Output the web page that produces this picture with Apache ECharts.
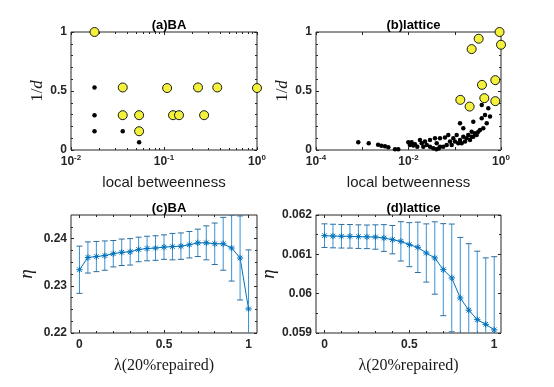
<!DOCTYPE html>
<html><head><meta charset="utf-8">
<script src="https://cdn.jsdelivr.net/npm/echarts@6/dist/echarts.min.js"></script>
<style>html,body{margin:0;padding:0;background:#fff}#c{width:554px;height:387px}</style>
</head><body><div id="c"></div>
<script>
// ---------------- DATA ----------------
const titles = ['(a)BA', '(b)lattice', '(c)BA', '(d)lattice'];
// (a) BA: [local betweenness, 1/d]
const baBlack = [[0.0179,0.53],[0.0179,0.295],[0.0179,0.159],[0.036,0.159],[0.054,0.065]];
const baYellow = [[0.0179,1.0],[0.036,0.53],[0.036,0.295],[0.054,0.295],[0.054,0.159],[0.108,0.525],
  [0.125,0.295],[0.145,0.295],[0.232,0.53],[0.27,0.295],[0.374,0.53],[1.0,0.525]];
// (b) lattice
const latBlack = [[0.00082,0.065],[0.00138,0.057],[0.0022,0.045],[0.0026,0.037],[0.0031,0.031],[0.00366,0.023],
  [0.0051,0.006],[0.006,0.006],[0.0099,0.065],[0.0117,0.065],[0.0107,0.042],[0.0138,0.048],[0.0155,0.028],
  [0.0127,0.038],[0.0177,0.085],[0.0193,0.057],[0.0209,0.028],[0.0227,0.071],[0.0248,0.042],[0.0292,0.085],
  [0.0292,0.028],[0.0344,0.014],[0.0374,0.099],[0.0407,0.057],[0.048,0.028],[0.048,0.099],[0.0565,0.028],
  [0.0615,0.105],[0.067,0.042],[0.0725,0.127],[0.0789,0.071],[0.0859,0.042],[0.093,0.099],[0.101,0.071],
  [0.110,0.127],[0.119,0.057],[0.130,0.085],[0.130,0.227],[0.141,0.057],[0.153,0.113],[0.153,0.184],
  [0.167,0.071],[0.181,0.099],[0.196,0.127],[0.214,0.085],[0.232,0.155],[0.232,0.113],[0.252,0.24],
  [0.252,0.113],[0.274,0.142],[0.298,0.127],[0.323,0.155],[0.352,0.17],[0.383,0.269],[0.414,0.184],
  [0.451,0.297],[0.383,0.382],[0.491,0.227],[0.531,0.354],[0.578,0.283],[0.04,0.006],[0.045,0.012]];
const latYellow = [[0.93,1.0],[1.0,0.892],[0.329,0.943],[0.232,0.855],[0.753,0.592],[0.388,0.552],
  [0.436,0.439],[0.753,0.414],[0.132,0.425],[0.21,0.368]];
// (c),(d) efficiency vs lambda
const lambda = [0,0.05,0.1,0.15,0.2,0.25,0.3,0.35,0.4,0.45,0.5,0.55,0.6,0.65,0.7,0.75,0.8,0.85,0.9,0.95,1];
const etaBA = [0.2334,0.2360,0.2362,0.2364,0.2368,0.2371,0.2372,0.2377,0.2379,0.2380,0.2382,0.2383,0.2384,
  0.2387,0.2391,0.2391,0.2389,0.2389,0.2380,0.2359,0.2251];
const errBA = [0.0050,0.0033,0.0032,0.0031,0.0028,0.0028,0.0028,0.0026,0.0026,0.0026,0.0026,0.0028,0.0028,
  0.0028,0.0029,0.0036,0.0044,0.0056,0.0070,0.0089,0.0125];
const etaLat = [0.061475,0.061465,0.061460,0.061458,0.061450,0.061445,0.061440,0.061415,0.061373,0.06133,
  0.061246,0.061178,0.061034,0.060907,0.06061,0.0604,0.05989,0.05958,0.05934,0.05922,0.05908];
const errLat = [0.0003,0.0003,0.0003,0.0003,0.0003,0.0003,0.00031,0.00034,0.00036,0.0005,0.00056,0.00064,
  0.00074,0.00092,0.00117,0.00137,0.00154,0.00169,0.00174,0.00169,0.00186];
// tick labels
const ticks01 = [0, 0.5, 1];
const ticksLam = [0, 0.5, 1];
const ticksEtaBA = [0.22, 0.23, 0.24];
const ticksEtaLat = [0.059, 0.06, 0.061, 0.062];

// ---------------- STYLE / LAYOUT ----------------
const F = 'Liberation Sans, Arial, sans-serif';
const SERIF = 'Liberation Serif, Times New Roman, serif';
const AX = '#262626';
const BLUE = '#0072BD', BAR = '#3a92d4', CAP = '#2d6d9e';
const grids = [
  {left:71, top:32, width:186, height:118},
  {left:316, top:32, width:185, height:118},
  {left:71, top:215, width:186, height:118},
  {left:316, top:215, width:185, height:118}
];
const xAxes = [], yAxes = [];
const addX = o => (xAxes.push(o), xAxes.length - 1);
const addY = o => (yAxes.push(o), yAxes.length - 1);
const noLine = {show:false, onZero:false};
const tk = (len, cv) => { const t = {show:true, inside:true, length:len, lineStyle:{color:AX, width:1}}; if (cv) t.customValues = cv; return t; };
const lab = {color:AX, fontFamily:F, fontWeight:'bold', fontSize:12};
const offLab = {show:false};
const noSplit = {show:false};
const logRich = {
  b:{fontSize:12, fontWeight:'bold', fontFamily:F, color:AX, lineHeight:14, verticalAlign:'bottom'},
  s:{fontSize:8, fontWeight:'bold', fontFamily:F, color:AX, lineHeight:9, verticalAlign:'top'}
};
const xNameStyle = {fontFamily:F, fontSize:15, color:'#1a1a1a'};
const lamNameStyle = {fontFamily:SERIF, fontSize:16, color:'#1a1a1a'};
const dRich = {n:{fontFamily:SERIF, fontSize:17, color:'#1a1a1a'}, i:{fontFamily:SERIF, fontStyle:'italic', fontSize:17, color:'#1a1a1a'}};
const etaStyle = {fontFamily:SERIF, fontStyle:'italic', fontSize:19, color:'#1a1a1a'};

function logMinor(e0, e1, everyDecade) {
  const out = [];
  for (let e = e0; e < e1; e++) {
    if (everyDecade) { if ((e - e0) % 2 === 1) out.push(e); continue; }
    for (let k = 2; k <= 9; k++) out.push(e + Math.log10(k));
  }
  return out;
}

const axRefs = [];
// Panels (a),(b): log x, linear y 0..1
[[0, -2, 0, false], [1, -4, 0, true]].forEach(([g, e0, e1, skipOdd]) => {
  const lmin = Math.pow(10, e0), lmax = Math.pow(10, e1);
  const fmt = v => { const e = Math.round(Math.log10(v)); if (skipOdd && (e - e0) % 2) return ''; return '{b|10}{s|' + e + '}'; };
  const xi = addX({gridIndex:g, type:'log', logBase:10, min:lmin, max:lmax, position:'bottom', axisLine:noLine,
    axisTick:tk(3), axisLabel:{formatter:fmt, rich:logRich, margin:4}, splitLine:noSplit,
    name:'local betweenness', nameLocation:'middle', nameGap:25, nameTextStyle:xNameStyle});
  addX({gridIndex:g, type:'log', logBase:10, min:lmin, max:lmax, position:'top', axisLine:noLine, axisTick:tk(3), axisLabel:offLab, splitLine:noSplit});
  const mv = logMinor(e0, e1, skipOdd);
  addX({gridIndex:g, type:'value', min:e0, max:e1, position:'bottom', axisLine:noLine, axisTick:tk(2, mv), axisLabel:offLab, splitLine:noSplit});
  addX({gridIndex:g, type:'value', min:e0, max:e1, position:'top', axisLine:noLine, axisTick:tk(2, mv), axisLabel:offLab, splitLine:noSplit});
  const yi = addY({gridIndex:g, type:'value', min:0, max:1, position:'left', axisLine:noLine, axisTick:tk(3, ticks01),
    axisLabel:Object.assign({customValues:ticks01, margin:4}, lab), splitLine:noSplit,
    name:'{n|1/}{i|d}', nameLocation:'middle', nameGap:25, nameTextStyle:{rich:dRich}});
  addY({gridIndex:g, type:'value', min:0, max:1, position:'right', axisLine:noLine, axisTick:tk(3, ticks01), axisLabel:offLab, splitLine:noSplit});
  const ym = [0.1,0.2,0.3,0.4,0.6,0.7,0.8,0.9];
  addY({gridIndex:g, type:'value', min:0, max:1, position:'left', axisLine:noLine, axisTick:tk(2, ym), axisLabel:offLab, splitLine:noSplit});
  addY({gridIndex:g, type:'value', min:0, max:1, position:'right', axisLine:noLine, axisTick:tk(2, ym), axisLabel:offLab, splitLine:noSplit});
  axRefs[g] = [xi, yi];
});
// Panels (c),(d)
[[2, -0.05, 1.05, 0.22, 0.245, ticksEtaBA, 0.0025, 2, 35], [3, -0.05, 1.04, 0.059, 0.062, ticksEtaLat, 0.0005, 3, 33]].forEach(
  ([g, xmin, xmax, ymin, ymax, yt, ystep, dec, gap]) => {
  const xm = [0.1,0.2,0.3,0.4,0.6,0.7,0.8,0.9];
  const xi = addX({gridIndex:g, type:'value', min:xmin, max:xmax, position:'bottom', axisLine:noLine, axisTick:tk(3, ticksLam),
    axisLabel:Object.assign({customValues:ticksLam, margin:6}, lab), splitLine:noSplit,
    name:'λ(20%repaired)', nameLocation:'middle', nameGap:25, nameTextStyle:lamNameStyle});
  addX({gridIndex:g, type:'value', min:xmin, max:xmax, position:'top', axisLine:noLine, axisTick:tk(3, ticksLam), axisLabel:offLab, splitLine:noSplit});
  addX({gridIndex:g, type:'value', min:xmin, max:xmax, position:'bottom', axisLine:noLine, axisTick:tk(2, xm), axisLabel:offLab, splitLine:noSplit});
  addX({gridIndex:g, type:'value', min:xmin, max:xmax, position:'top', axisLine:noLine, axisTick:tk(2, xm), axisLabel:offLab, splitLine:noSplit});
  const ym = [];
  for (let v = ymin + ystep; v < ymax - 1e-9; v += ystep) {
    const r = +v.toFixed(6);
    if (!yt.some(t => Math.abs(t - r) < 1e-9)) ym.push(r);
  }
  const yi = addY({gridIndex:g, type:'value', min:ymin, max:ymax, position:'left', axisLine:noLine, axisTick:tk(3, yt),
    axisLabel:Object.assign({customValues:yt, margin:4, formatter: v => String(+v.toFixed(dec))}, lab), splitLine:noSplit,
    name:'η', nameLocation:'middle', nameGap:gap, nameRotate:90, nameTextStyle:etaStyle});
  addY({gridIndex:g, type:'value', min:ymin, max:ymax, position:'right', axisLine:noLine, axisTick:tk(3, yt), axisLabel:offLab, splitLine:noSplit});
  addY({gridIndex:g, type:'value', min:ymin, max:ymax, position:'left', axisLine:noLine, axisTick:tk(2, ym), axisLabel:offLab, splitLine:noSplit});
  addY({gridIndex:g, type:'value', min:ymin, max:ymax, position:'right', axisLine:noLine, axisTick:tk(2, ym), axisLabel:offLab, splitLine:noSplit});
  axRefs[g] = [xi, yi];
});

function errRender(params, api) {
  const x = api.value(0), m = api.value(1), h = api.value(2);
  const pm = api.coord([x, m]), pt = api.coord([x, m + h]), pb = api.coord([x, m - h]);
  const cw = 3, r = 3.2, d = r * 0.72;
  const L = (x1, y1, x2, y2, c) => ({type:'line', shape:{x1, y1, x2, y2}, style:{stroke:c, lineWidth:1}});
  return {type:'group', children:[
    L(pt[0], pt[1], pb[0], pb[1], BAR),
    L(pt[0]-cw, pt[1], pt[0]+cw, pt[1], CAP),
    L(pb[0]-cw, pb[1], pb[0]+cw, pb[1], CAP),
    L(pm[0]-r, pm[1], pm[0]+r, pm[1], BLUE),
    L(pm[0], pm[1]-r, pm[0], pm[1]+r, BLUE),
    L(pm[0]-d, pm[1]-d, pm[0]+d, pm[1]+d, BLUE),
    L(pm[0]-d, pm[1]+d, pm[0]+d, pm[1]-d, BLUE)
  ]};
}

const series = [];
[[0, baBlack, baYellow], [1, latBlack, latYellow]].forEach(([g, blk, yel]) => {
  series.push({type:'scatter', xAxisIndex:axRefs[g][0], yAxisIndex:axRefs[g][1], data:blk, symbolSize:4.5,
    itemStyle:{color:'#000', opacity:1}, clip:false, z:3});
  series.push({type:'scatter', xAxisIndex:axRefs[g][0], yAxisIndex:axRefs[g][1], data:yel, symbolSize:9,
    itemStyle:{color:'#f3f13a', borderColor:'#1a1a1a', borderWidth:1, opacity:1}, clip:false, z:4});
});
[[2, etaBA, errBA], [3, etaLat, errLat]].forEach(([g, eta, err]) => {
  series.push({type:'line', xAxisIndex:axRefs[g][0], yAxisIndex:axRefs[g][1], data:lambda.map((l, i) => [l, eta[i]]),
    symbol:'none', lineStyle:{color:BLUE, width:1}, clip:true, z:3});
  series.push({type:'custom', xAxisIndex:axRefs[g][0], yAxisIndex:axRefs[g][1], data:lambda.map((l, i) => [l, eta[i], err[i]]),
    renderItem:errRender, encode:{x:0, y:1}, clip:true, z:4});
});

const titleCfg = titles.map((t, i) => ({
  text:t, left:grids[i].left + grids[i].width/2, top:grids[i].top - 18, textAlign:'center',
  textStyle:{fontFamily:F, fontWeight:'bold', fontSize:13, color:'#000'}
}));

const chart = echarts.init(document.getElementById('c'), null, {renderer:'canvas'});
chart.setOption({
  animation:false,
  backgroundColor:'#fff',
  title:titleCfg,
  grid:grids.map(g => Object.assign({containLabel:false, show:true, borderColor:AX, borderWidth:1, backgroundColor:'transparent'}, g)),
  xAxis:xAxes,
  yAxis:yAxes,
  series:series
});
</script>
</body></html>
